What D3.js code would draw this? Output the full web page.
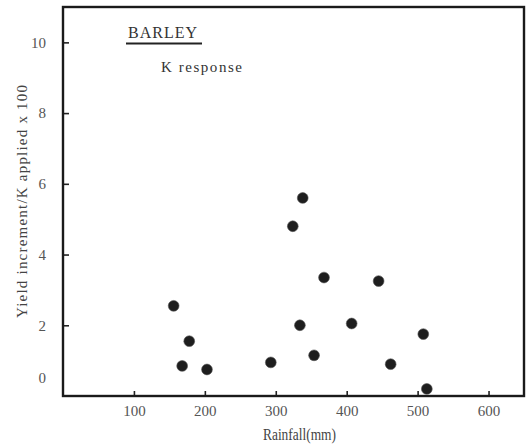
<!DOCTYPE html>
<html>
<head>
<meta charset="utf-8">
<script src="https://cdn.jsdelivr.net/npm/d3@7"></script>
<style>
  html, body { margin: 0; padding: 0; background: #fff; }
  svg { display: block; }
</style>
</head>
<body>
<svg id="chart" width="532" height="448"></svg>
<script>
// Data (Barley, K response)
const rainfall = [156, 178, 168, 203, 293, 324, 338, 334, 354, 368, 407, 445, 462, 508, 513];
const response = [2.55, 1.55, 0.85, 0.75, 0.95, 4.8, 5.6, 2.0, 1.15, 3.35, 2.05, 3.25, 0.9, 1.75, 0.2];
const xTicks = [100, 200, 300, 400, 500, 600];
const yTicks = [0, 2, 4, 6, 8, 10];
const titleText = "BARLEY";
const subtitleText = "K response";
const xLabel = "Rainfall(mm)";
const yLabel = "Yield increment/K applied x 100";

(function () {
const FONT = '"Liberation Serif", "DejaVu Serif", serif';
const points = rainfall.map((r, i) => ({ x: r, y: response[i] }));

const svg = d3.select("#chart");
const mLeft = 63, mRight = 524, mTop = 7, mBottom = 396;

const x = d3.scaleLinear().domain([0, 650]).range([mLeft, mRight]);
const y = d3.scaleLinear().domain([0, 11]).range([mBottom, mTop]);

// Y axis
const yAxis = svg.append("g")
  .attr("transform", `translate(${mLeft},0)`)
  .call(d3.axisLeft(y).tickValues(yTicks).tickSizeInner(-6).tickSizeOuter(0).tickPadding(17));
yAxis.select(".domain").remove();
yAxis.selectAll(".tick line").attr("stroke", "#222").attr("stroke-width", 1.6);
yAxis.selectAll(".tick text")
  .attr("font-size", 15)
  .attr("font-family", FONT)
  .attr("fill", "#555");
yAxis.selectAll(".tick").filter(d => d === 0).select("line").remove();
yAxis.selectAll(".tick").filter(d => d === 0).select("text").attr("y", -18);

// X axis
const xAxis = svg.append("g")
  .attr("transform", `translate(0,${mBottom})`)
  .call(d3.axisBottom(x).tickValues(xTicks).tickSizeInner(-5).tickSizeOuter(0).tickPadding(9));
xAxis.select(".domain").remove();
xAxis.selectAll(".tick line").attr("stroke", "#222").attr("stroke-width", 1.6);
xAxis.selectAll(".tick text")
  .attr("font-size", 15)
  .attr("font-family", FONT)
  .attr("fill", "#555");

// Frame
svg.append("rect")
  .attr("x", mLeft).attr("y", mTop)
  .attr("width", mRight - mLeft).attr("height", mBottom - mTop)
  .attr("fill", "none").attr("stroke", "#1a1a1a").attr("stroke-width", 2.4);

// Points
svg.append("g").selectAll("circle")
  .data(points)
  .join("circle")
  .attr("cx", d => x(d.x))
  .attr("cy", d => y(d.y))
  .attr("r", 5.4)
  .attr("fill", "#1e1e1e")
  .attr("stroke", "#555")
  .attr("stroke-width", 0.6);

// Title + underline
svg.append("text")
  .attr("x", 128).attr("y", 38)
  .attr("font-size", 16)
  .attr("font-family", FONT)
  .attr("textLength", 69)
  .attr("lengthAdjust", "spacing")
  .attr("fill", "#333")
  .text(titleText);
svg.append("line")
  .attr("x1", 126).attr("x2", 202)
  .attr("y1", 43.5).attr("y2", 43.5)
  .attr("stroke", "#222").attr("stroke-width", 2);

svg.append("text")
  .attr("x", 161).attr("y", 72)
  .attr("font-size", 15)
  .attr("font-family", FONT)
  .attr("textLength", 81)
  .attr("lengthAdjust", "spacing")
  .attr("fill", "#333")
  .text(subtitleText);

// Axis labels
svg.append("text")
  .attr("x", 263).attr("y", 440)
  .attr("font-size", 16)
  .attr("font-family", FONT)
  .attr("textLength", 73)
  .attr("lengthAdjust", "spacingAndGlyphs")
  .attr("fill", "#444")
  .text(xLabel);

svg.append("text")
  .attr("transform", "translate(27,318) rotate(-90)")
  .attr("x", 0).attr("y", 0)
  .attr("font-size", 15)
  .attr("font-family", FONT)
  .attr("textLength", 233)
  .attr("lengthAdjust", "spacing")
  .attr("fill", "#444")
  .text(yLabel);
})();
</script>
</body>
</html>
